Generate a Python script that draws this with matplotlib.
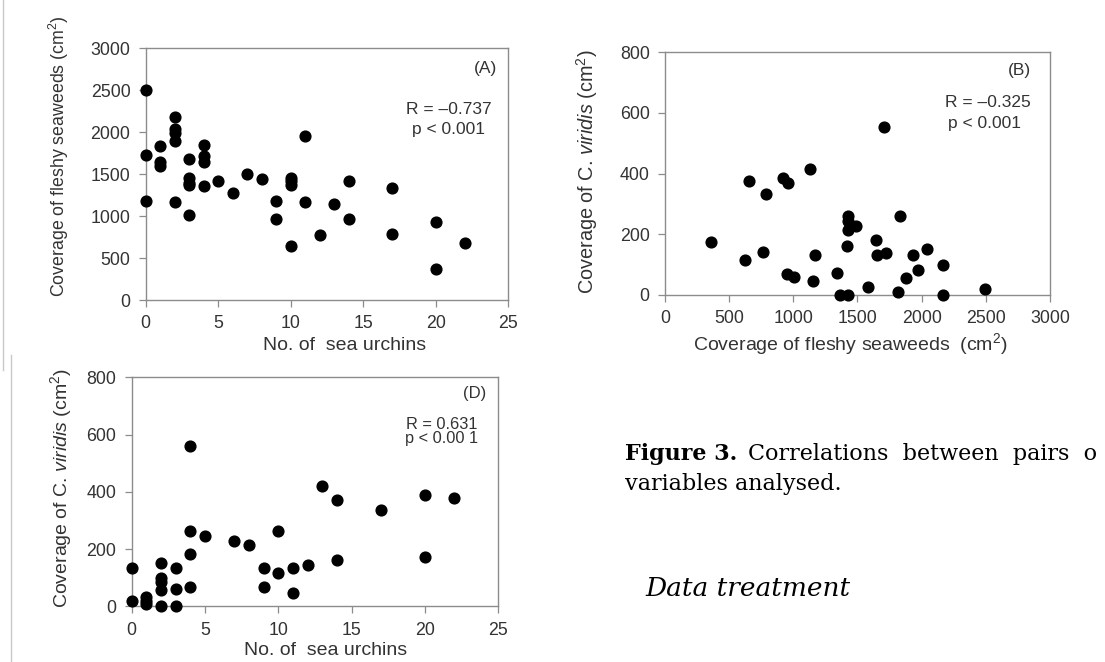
import matplotlib
matplotlib.use("Agg")
import matplotlib.pyplot as plt
from matplotlib.lines import Line2D

# Panel A: no. of sea urchins vs fleshy seaweed coverage (cm2)
a_urchins = [0, 0, 0, 1, 1, 1, 2, 2, 2, 2, 2, 3, 3, 3, 3, 3, 4, 4, 4, 4,
             5, 6, 7, 8, 9, 9, 10, 10, 10, 10, 11, 11, 12, 13, 14, 14,
             17, 17, 20, 20, 22]
a_seaweed = [2500, 1730, 1180, 1830, 1640, 1600, 2180, 2040, 1990, 1900, 1170,
             1680, 1450, 1400, 1370, 1010, 1850, 1720, 1650, 1360,
             1420, 1280, 1500, 1440, 1180, 970, 1460, 1420, 1370, 640,
             1950, 1170, 770, 1150, 1420, 970, 1340, 790, 930, 370, 680]

# Panel B: fleshy seaweed coverage vs C. viridis coverage (cm2)
b_seaweed = [356, 623, 657, 766, 784, 916, 960, 953, 1005, 1129, 1155, 1171,
             1337, 1363, 1415, 1425, 1430, 1423, 1430, 1488, 1584, 1648, 1656,
             1708, 1719, 1817, 1835, 1877, 1934, 1968, 2043, 2168, 2170, 2497]
b_viridis = [174, 116, 377, 143, 333, 385, 368, 68, 58, 416, 46, 133,
             71, 1, 160, 1, 262, 244, 213, 226, 27, 182, 133,
             554, 138, 10, 262, 55, 133, 81, 152, 98, 1, 20]

# Panel D: no. of sea urchins vs C. viridis coverage (cm2)
d_urchins = [0, 0, 1, 1, 1, 2, 2, 2, 2, 2, 3, 3, 3, 4, 4, 4, 4, 5, 7, 8,
             9, 9, 10, 10, 11, 11, 12, 13, 14, 14, 17, 20, 20, 22]
d_viridis = [135, 20, 32, 19, 8, 153, 98, 84, 57, 0, 135, 59, 0, 559, 263, 184, 68,
             246, 228, 215, 135, 68, 263, 118, 135, 45, 143, 419, 370, 161,
             335, 389, 174, 380]

plt.rcParams['font.family'] = ['Liberation Sans', 'DejaVu Sans']
plt.rcParams['mathtext.fontset'] = 'custom'
plt.rcParams['mathtext.rm'] = 'Liberation Sans'
plt.rcParams['mathtext.it'] = 'Liberation Sans:italic'
spine_col = '#8c8c8c'
text_col = '#333333'

viridis_label = 'Coverage of C. $\\mathit{viridis}$ (cm$^2$)'

fig = plt.figure(figsize=(11.05, 6.62), dpi=100)


def style_axes(ax):
    for s in ax.spines.values():
        s.set_color(spine_col)
        s.set_linewidth(1.0)
    ax.tick_params(direction='out', length=5, width=0.9, color=spine_col,
                   labelsize=12.8, labelcolor=text_col, pad=6)


def stats_text(ax, xr, yr, xp, yp, r_txt, p_txt, size):
    ax.text(xr, yr, r_txt, transform=ax.transAxes, ha='center', va='center',
            fontsize=size, color=text_col)
    ax.text(xp, yp, p_txt, transform=ax.transAxes, ha='center', va='center',
            fontsize=size, color=text_col)


# Panel A
axA = fig.add_axes([0.1319, 0.5468, 0.3281, 0.3802])
axA.scatter(a_urchins, a_seaweed, s=60, color='black', zorder=3, clip_on=False)
axA.set_xlim(0, 25)
axA.set_ylim(0, 3000)
axA.set_xticks([0, 5, 10, 15, 20, 25])
axA.set_yticks([0, 500, 1000, 1500, 2000, 2500, 3000])
style_axes(axA)
axA.set_xlabel('No. of  sea urchins', fontsize=14, color=text_col)
axA.xaxis.set_label_coords(0.548, -0.145)
axA.set_ylabel('Coverage of fleshy seaweeds (cm$^2$)', fontsize=12.8, color=text_col)
axA.yaxis.set_label_coords(-0.205, 0.572)
axA.text(0.968, 0.918, '(A)', transform=axA.transAxes, ha='right', va='center',
         fontsize=12.5, color=text_col)
stats_text(axA, 0.835, 0.755, 0.835, 0.676, 'R = \u20130.737', 'p < 0.001', 12.5)

# Panel B
axB = fig.add_axes([0.6018, 0.5544, 0.3484, 0.3666])
axB.scatter(b_seaweed, b_viridis, s=60, color='black', zorder=3, clip_on=False)
axB.set_xlim(0, 3000)
axB.set_ylim(0, 800)
axB.set_xticks([0, 500, 1000, 1500, 2000, 2500, 3000])
axB.set_yticks([0, 200, 400, 600, 800])
style_axes(axB)
axB.set_xlabel('Coverage of fleshy seaweeds  (cm$^2$)', fontsize=14, color=text_col)
axB.xaxis.set_label_coords(0.482, -0.15)
axB.set_ylabel(viridis_label, fontsize=14.3, color=text_col)
axB.yaxis.set_label_coords(-0.17, 0.509)
axB.text(0.952, 0.924, '(B)', transform=axB.transAxes, ha='right', va='center',
         fontsize=12.5, color=text_col)
stats_text(axB, 0.839, 0.792, 0.831, 0.705, 'R = \u20130.325', 'p < 0.001', 12.5)

# Panel D
axD = fig.add_axes([0.1192, 0.0841, 0.3318, 0.3459])
axD.scatter(d_urchins, d_viridis, s=60, color='black', zorder=3, clip_on=False)
axD.set_xlim(0, 25)
axD.set_ylim(0, 800)
axD.set_xticks([0, 5, 10, 15, 20, 25])
axD.set_yticks([0, 200, 400, 600, 800])
style_axes(axD)
axD.set_xlabel('No. of  sea urchins', fontsize=14, color=text_col)
axD.xaxis.set_label_coords(0.53, -0.155)
axD.set_ylabel(viridis_label, fontsize=14, color=text_col)
axD.yaxis.set_label_coords(-0.158, 0.517)
axD.text(0.968, 0.93, '(D)', transform=axD.transAxes, ha='right', va='center',
         fontsize=12, color=text_col)
stats_text(axD, 0.846, 0.795, 0.844, 0.734, 'R = 0.631', 'p < 0.00 1', 11.8)

# caption and surrounding document text
fig.text(625 / 1105, 1 - 454 / 662, 'Figure 3.', fontsize=16, fontweight='bold',
         family='DejaVu Serif', va='center', ha='left')
fig.text(748 / 1105, 1 - 454 / 662, 'Correlations  between  pairs  o', fontsize=16,
         family='DejaVu Serif', va='center', ha='left')
fig.text(625 / 1105, 1 - 484 / 662, 'variables analysed.', fontsize=16,
         family='DejaVu Serif', va='center', ha='left')
fig.text(645 / 1105, 1 - 588 / 662, 'Data treatment', fontsize=19, style='italic',
         family='DejaVu Serif', va='center', ha='left')

# faint page edge lines
fig.add_artist(Line2D([3 / 1105, 3 / 1105], [1, 1 - 370 / 662], color='#c8c8c8', lw=1))
fig.add_artist(Line2D([11 / 1105, 11 / 1105], [1 - 355 / 662, 0], color='#c8c8c8', lw=1))

plt.savefig('out.png', dpi=100)
